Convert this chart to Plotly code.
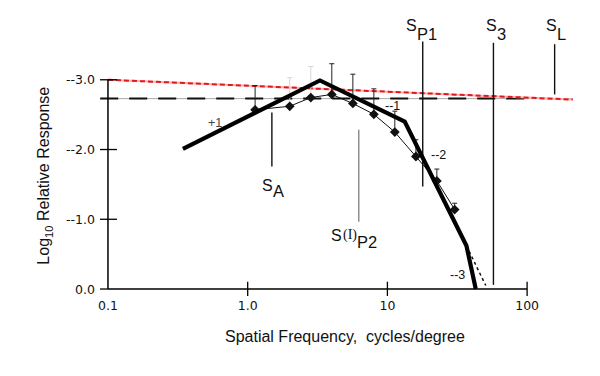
import plotly.graph_objects as go

# ---------------- data ----------------
model_sf = [0.344, 3.29, 13.3, 36.8, 42.9]
model_resp = [2.01, 2.99, 2.40, 0.62, 0.0]

tail_sf = [36.8, 50.6]
tail_resp = [0.62, 0.05]

data_sf = [1.13, 2.0, 2.83, 4.0, 5.66, 8.0, 11.3, 16.0, 22.6, 30.3]
data_resp = [2.57, 2.62, 2.745, 2.79, 2.66, 2.505, 2.25, 1.90, 1.55, 1.14]
data_err_up = [0.347, 0.41, 0.445, 0.44, 0.42, 0.365, 0.30, 0.24, 0.17, 0.09]

criterion_sf = [0.088, 212]
criterion_level = 2.73
criterion_dash_sf = [0.088, 100]

red_sf = [0.1, 212]
red_resp = [3.0, 2.716]

marker_names = ["A", "P2", "P1", "3", "L"]
marker_sf = [1.49, 6.24, 17.9, 57.4, 157.4]
marker_top = [2.53, 2.285, 3.55, 3.53, 3.51]
marker_bottom = [1.755, 0.966, 1.47, 0.06, 2.79]
marker_colors = ["#111111", "#888888", "#111111", "#111111", "#111111"]

x_tickvals = [0.1, 1, 10, 100]
x_ticktext = ["0.1", "1.0", "10", "100"]
y_tickvals = [0, 1, 2, 3]
y_ticktext = ["0.0", "--1.0", "--2.0", "--3.0"]

slope_labels = ["+1", "--1", "--2", "--3"]

# ---------------- geometry helpers (page pixel -> data, for label placement) ----
X0PX, DEC = 108.0, 139.8
Y0PX, UNIT = 289.3, 69.7
BODY = 8  # default page body margin

XR = [-1.1, 2.4]
YR = [-0.1, 3.9]
left_px = X0PX + (XR[0] + 1) * DEC
right_px = X0PX + (XR[1] + 1) * DEC
top_px = Y0PX - YR[1] * UNIT
bot_px = Y0PX - YR[0] * UNIT


def px2lx(px):  # log10 of x (annotation coordinates on a log axis)
    return (px - X0PX) / DEC - 1


def px2x(px):
    return 10 ** px2lx(px)


def px2y(py):
    return (Y0PX - py) / UNIT


def px2paperx(px):
    return (px - left_px) / (right_px - left_px)


def px2papery(py):
    return (bot_px - py) / (bot_px - top_px)


FONT = "Liberation Sans, Arial, Helvetica, sans-serif"
WFONT = "DejaVu Sans, Verdana, sans-serif"

fig = go.Figure()


def seg(xs, ys, **line):
    fig.add_trace(go.Scatter(x=xs, y=ys, mode="lines", line=line,
                             hoverinfo="skip", showlegend=False))


# criterion: thin gray solid + black long dashes
seg(criterion_sf, [criterion_level] * 2, color="#a8a8a8", width=1)
seg(criterion_dash_sf, [criterion_level] * 2, color="#111111", width=2, dash="18px,11px")

# red line: pink base + red dashes
seg(red_sf, red_resp, color="#f7b3b3", width=2)
seg(red_sf, red_resp, color="#e8161b", width=2, dash="5px,3px")

# vertical marker lines
for sf, top, bot, col in zip(marker_sf, marker_top, marker_bottom, marker_colors):
    seg([sf, sf], [bot, top], color=col, width=1.4)

# error bars (faint ones for points whose lines are barely visible)
faint = [1, 2]
for idxs, col in [([i for i in range(len(data_sf)) if i not in faint], "#222222"), (faint, "#d6d6d6")]:
    fig.add_trace(go.Scatter(
        x=[data_sf[i] for i in idxs], y=[data_resp[i] for i in idxs], mode="markers",
        marker=dict(size=1, color="rgba(0,0,0,0)"),
        error_y=dict(type="data", symmetric=False, array=[data_err_up[i] for i in idxs],
                     arrayminus=[0] * len(idxs), color=col, thickness=1, width=2.5),
        hoverinfo="skip", showlegend=False))

# measured data
fig.add_trace(go.Scatter(x=data_sf, y=data_resp, mode="lines+markers",
                         line=dict(color="#111111", width=1),
                         marker=dict(symbol="diamond", size=7.5, color="#111111"),
                         showlegend=False))

# dashed tail
seg(tail_sf, tail_resp, color="#111111", width=1.5, dash="3px,3px")

# model
fig.add_trace(go.Scatter(x=model_sf, y=model_resp, mode="lines",
                         line=dict(color="#000000", width=4.2), showlegend=False))

# axes lines and ticks
seg([0.1, 100], [0, 0], color="#000000", width=1.5)
seg([0.1, 0.1], [0, 3.0], color="#000000", width=1.5)
for tv in x_tickvals[1:]:
    seg([tv, tv], [px2y(282), px2y(298)], color="#000000", width=1.3)
for tv in y_tickvals:
    x_right = px2x(117) if tv > 0 else 0.1
    seg([px2x(100), x_right], [tv, tv], color="#000000", width=1.3)

ann = []
NOPAD = dict(showarrow=False, borderpad=0, borderwidth=0)
# y tick labels
for tv, tt in zip(y_tickvals, y_ticktext):
    ann.append(dict(x=px2lx(95), y=tv, text=tt, xanchor="right", yanchor="middle",
                    font=dict(size=12.5, color="#111111", family=WFONT), **NOPAD))

# marker labels: main "S" + lowered subscript
label_pos = {
    # name: (S right edge px, S center y px, sub center y px)
    "A": (273, 186, 191),
    "P1": (417, 26, 34),
    "3": (497, 26, 34),
    "L": (557, 26, 34),
}
for name, (sx, sy, suby) in label_pos.items():
    ann.append(dict(x=px2lx(sx), y=px2y(sy), text="S", xanchor="right", yanchor="middle",
                    font=dict(size=16, color="#111111", family=FONT), **NOPAD))
    ann.append(dict(x=px2lx(sx), y=px2y(suby), text=name, xanchor="left", yanchor="middle",
                    font=dict(size=16.5, color="#111111", family=FONT), **NOPAD))
# S(I)P2
ann.append(dict(x=px2lx(342), y=px2y(236), text="S", xanchor="right", yanchor="middle",
                font=dict(size=16, color="#111111", family=FONT), **NOPAD))
ann.append(dict(x=px2lx(343), y=px2y(235), text="(I)", xanchor="left", yanchor="middle",
                font=dict(size=14, color="#111111", family="Liberation Serif, Times New Roman, serif"),
                **NOPAD))
ann.append(dict(x=px2lx(357), y=px2y(242), text="P2", xanchor="left", yanchor="middle",
                font=dict(size=16.5, color="#111111", family=FONT), **NOPAD))

# slope labels
slope_px = [(215, 123), (393, 106), (439, 155), (458, 275)]
slope_col = ["#444444", "#111111", "#111111", "#111111"]
for txt, (px, py), col in zip(slope_labels, slope_px, slope_col):
    ann.append(dict(x=px2lx(px), y=px2y(py), text=txt, xanchor="center", yanchor="middle",
                    font=dict(size=12.5, color=col, family=FONT), **NOPAD))

for a in ann:
    a.setdefault("xref", "x")
    a.setdefault("yref", "y")

# axis titles (paper coordinates, outside the plotting area)
ann.append(dict(xref="paper", yref="paper", x=px2paperx(45), y=px2papery(176), textangle=-90,
                text="Log<sub>10</sub> Relative Response", xanchor="center", yanchor="middle",
                font=dict(size=16, color="#111111", family=FONT), **NOPAD))
ann.append(dict(xref="paper", yref="paper", x=px2paperx(345), y=px2papery(337),
                text="Spatial Frequency,  cycles/degree", xanchor="center", yanchor="middle",
                font=dict(size=16, color="#111111", family=FONT), **NOPAD))

fig.update_layout(
    width=600, height=376,
    margin=dict(l=left_px - BODY, r=600 - right_px + BODY, t=top_px - BODY,
                b=376 - bot_px + BODY, pad=0, autoexpand=False),
    paper_bgcolor="white", plot_bgcolor="white",
    font=dict(family=FONT, size=13, color="#111111"),
    annotations=ann,
    xaxis=dict(type="log", range=XR, tickvals=x_tickvals, ticktext=x_ticktext,
               showgrid=False, zeroline=False, showline=False, ticks="",
               tickfont=dict(size=12.5, family=WFONT, color="#111111")),
    yaxis=dict(range=YR, showgrid=False, zeroline=False, showline=False,
               showticklabels=False, ticks=""),
)

fig.write_html("out.html")
